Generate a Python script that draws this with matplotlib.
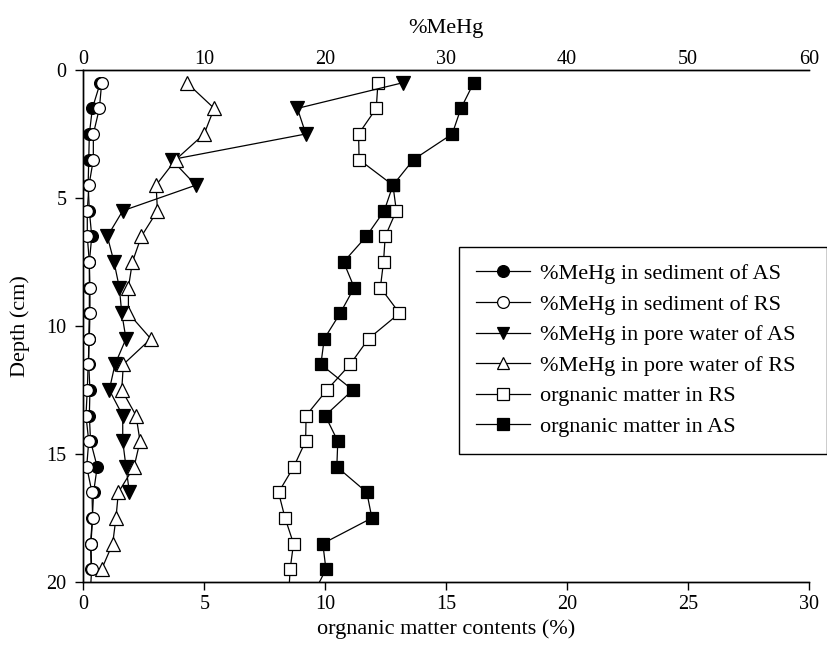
import matplotlib
matplotlib.use("Agg")
import matplotlib.pyplot as plt
from matplotlib.lines import Line2D

plt.rcParams['font.family'] = ['Liberation Serif', 'DejaVu Serif']

depth = [0.5, 1.5, 2.5, 3.5, 4.5, 5.5, 6.5, 7.5, 8.5, 9.5,
         10.5, 11.5, 12.5, 13.5, 14.5, 15.5, 16.5, 17.5, 18.5, 19.5, 20.5]

# %MeHg in sediment (top axis)
sed_AS = [1.4, 0.75, 0.5, 0.45, 0.4, 0.5, 0.7, 0.5, 0.5, 0.5,
          0.45, 0.45, 0.55, 0.5, 0.6, 1.15, 0.85, 0.75, 0.6, 0.65]
sed_RS = [1.52, 1.33, 0.83, 0.83, 0.47, 0.33, 0.33, 0.5, 0.55, 0.55,
          0.5, 0.4, 0.33, 0.22, 0.45, 0.28, 0.72, 0.77, 0.63, 0.69, 0.57]

# %MeHg in pore water (top axis)
pw_depth_AS = [0.5, 1.5, 2.5, 3.5, 4.5, 5.5, 6.5, 7.5, 8.5, 9.5,
               10.5, 11.5, 12.5, 13.5, 14.5, 15.5, 16.5]
pw_AS = [26.4, 17.7, 18.4, 7.3, 9.3, 3.26, 1.99, 2.54, 2.98, 3.18,
         3.53, 2.62, 2.15, 3.26, 3.26, 3.53, 3.81]
pw_RS = [8.56, 10.82, 9.99, 7.65, 6.02, 6.13, 4.8, 4.06, 3.73, 3.73,
         5.58, 3.31, 3.18, 4.36, 4.69, 4.2, 2.9, 2.7, 2.43, 1.52]

# organic matter contents (bottom axis)
om_RS = [12.18, 12.11, 11.38, 11.4, 12.8, 12.94, 12.48, 12.41, 12.28, 13.07,
         11.79, 11.03, 10.07, 9.21, 9.19, 8.7, 8.07, 8.34, 8.69, 8.55, 8.49]
om_AS = [16.14, 15.61, 15.25, 13.65, 12.8, 12.44, 11.7, 10.76, 11.2, 10.62,
         9.96, 9.82, 11.14, 10.0, 10.52, 10.48, 11.72, 11.93, 9.9, 10.03, 9.5]

labels = ['%MeHg in sediment of AS', '%MeHg in sediment of RS',
          '%MeHg in pore water of AS', '%MeHg in pore water of RS',
          'orgnanic matter in RS', 'orgnanic matter in AS']

fig = plt.figure(figsize=(8.28, 6.45), dpi=100)
ax = fig.add_axes([0.1006, 0.0977, 0.8765, 0.7938])
ax2 = ax.twiny()

lw = 0.9
mew = 0.9
common = dict(color='black', lw=lw, mec='black', mew=mew)

# bottom axis: organic matter
ax.plot(om_RS, depth[:len(om_RS)], marker='s', ms=8, mfc='white', **common)
ax.plot(om_AS, depth[:len(om_AS)], marker='s', ms=8, mfc='black', **common)

# top axis: %MeHg
ax2.plot(sed_AS, depth[:len(sed_AS)], marker='o', ms=8.5, mfc='black', **common)
ax2.plot(sed_RS, depth[:len(sed_RS)], marker='o', ms=8.5, mfc='white', **common)
ax2.plot(pw_AS, pw_depth_AS, marker='v', ms=9.5, mfc='black', **common)
ax2.plot(pw_RS, depth[:len(pw_RS)], marker='^', ms=9.5, mfc='white', **common)

ax.set_xlim(0, 30)
ax.set_ylim(20, 0)
ax2.set_xlim(0, 60)
ax2.set_ylim(20, 0)

ax.set_xticks([0, 5, 10, 15, 20, 25, 30])
ax.set_yticks([0, 5, 10, 15, 20])
ax2.set_xticks([0, 10, 20, 30, 40, 50, 60])

for a in (ax, ax2):
    a.spines['right'].set_visible(False)
    for s in a.spines.values():
        s.set_linewidth(1.0)

ax.tick_params(axis='both', direction='out', length=6, width=1.0,
               labelsize=14.5)
ax.tick_params(axis='x', top=False, pad=3.5)
ax.tick_params(axis='y', pad=6)
ax2.tick_params(axis='x', direction='out', length=0, width=1.0,
                labelsize=14.5, pad=1)

ax.set_xlabel('orgnanic matter contents (%)', fontsize=16, labelpad=4)
ax.set_ylabel('Depth (cm)', fontsize=16, labelpad=12)
ax2.set_xlabel('%MeHg', fontsize=16, labelpad=12)

handles = [
    Line2D([], [], marker='o', ms=8.5, mfc='black', **common),
    Line2D([], [], marker='o', ms=8.5, mfc='white', **common),
    Line2D([], [], marker='v', ms=9, mfc='black', **common),
    Line2D([], [], marker='^', ms=9, mfc='white', **common),
    Line2D([], [], marker='s', ms=8, mfc='white', **common),
    Line2D([], [], marker='s', ms=8, mfc='black', **common),
]
leg = ax2.legend(handles, labels, loc='upper left',
                 bbox_to_anchor=(459 / 828, 1 - 456 / 645, 368 / 828, 209 / 645),
                 bbox_transform=fig.transFigure, mode='expand',
                 fontsize=16, frameon=True, fancybox=False,
                 edgecolor='black', framealpha=1, borderpad=0.75,
                 labelspacing=0.45, handlelength=2.45, handletextpad=0.45,
                 borderaxespad=0)
leg.get_frame().set_linewidth(1.0)

fig.savefig('out.png', dpi=100)
